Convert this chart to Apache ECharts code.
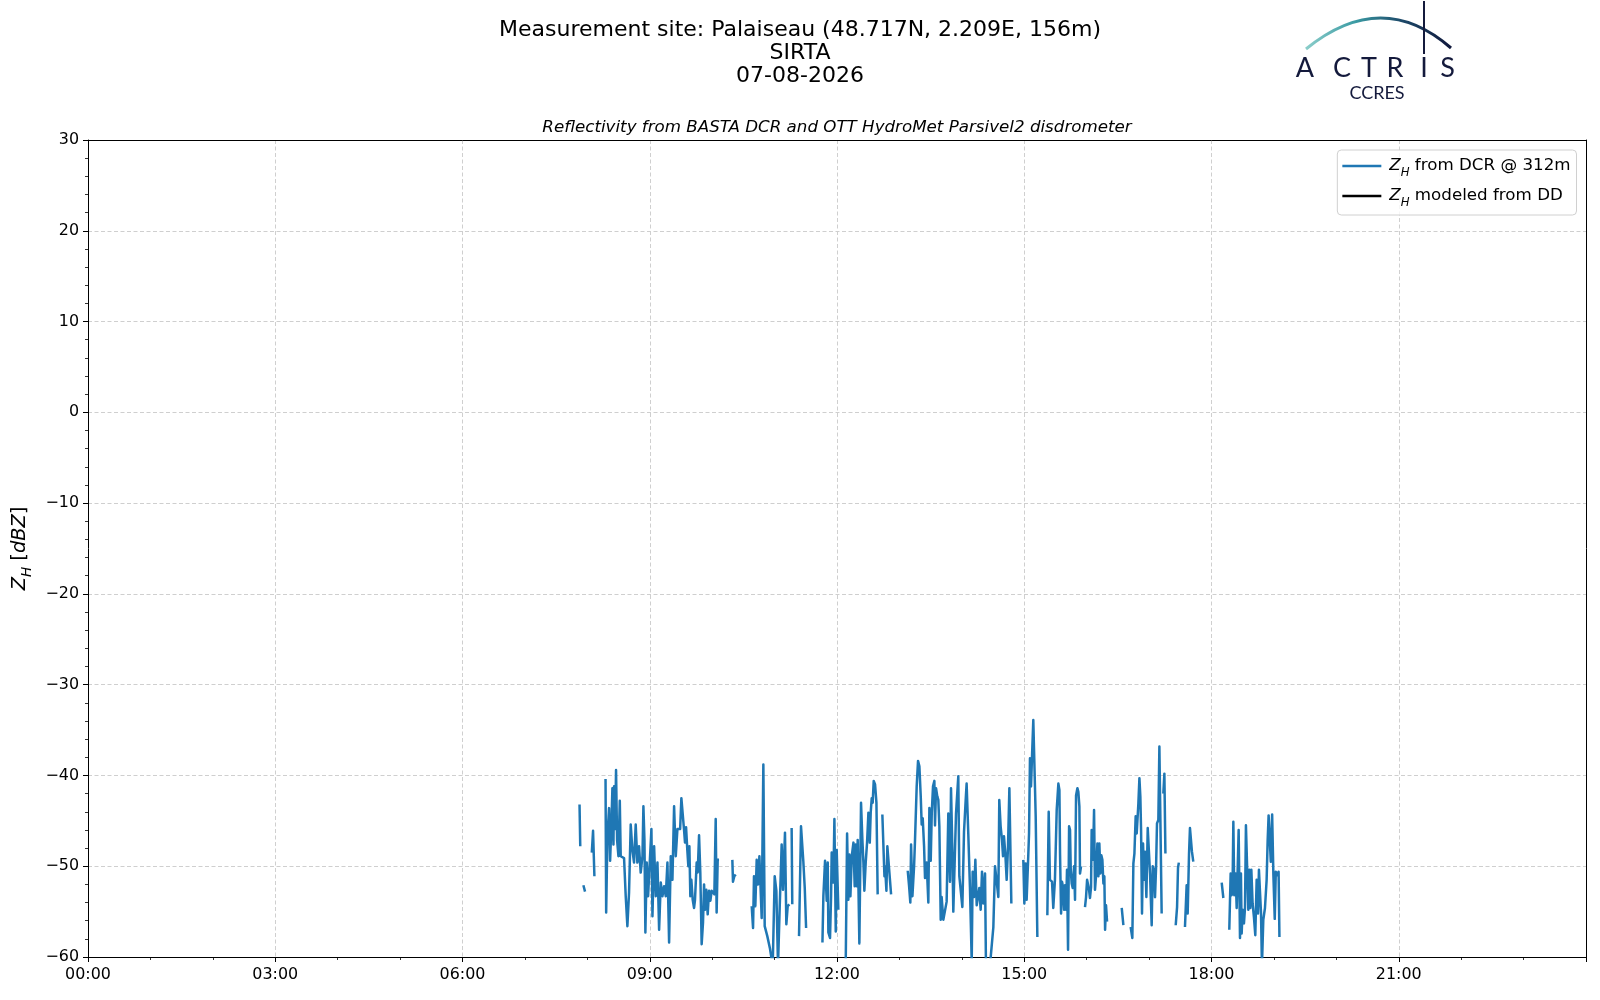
<!DOCTYPE html>
<html>
<head>
<meta charset="utf-8">
<script src="https://cdn.jsdelivr.net/npm/echarts@6/dist/echarts.min.js"></script>
<style>
html,body{margin:0;padding:0;background:#fff;}
#chart{width:1600px;height:1000px;}
</style>
</head>
<body>
<div id="chart"></div>
<script>
// ---- data (time in minutes since 00:00 UTC, reflectivity in dBZ) ----
const titleLines = ['Measurement site: Palaiseau (48.717N, 2.209E, 156m)', 'SIRTA', '07-08-2026'];
const subTitle = 'Reflectivity from BASTA DCR and OTT HydroMet Parsivel2 disdrometer';
const xTickMinutes = [0, 180, 360, 540, 720, 900, 1080, 1260];
const yTicks = [-60, -50, -40, -30, -20, -10, 0, 10, 20, 30];
const seriesNames = ['dcr', 'dd'];

// Z_H from DCR @ 312m, contiguous segments (gaps between segments)
const dcrSegments = [
 [[472.5,-43.2],[473.2,-47.8]],
 [[476.2,-52.1],[477.8,-52.8]],
 [[484.3,-48.5],[485.5,-46.1],[486.8,-51.1]],
 [[497.5,-40.4],[498.1,-55.1],[499.3,-46.7],[500.9,-43.6],[501.9,-49.4],[503.2,-45.2],[504.1,-41.4],[505.1,-47.6],[505.7,-41.2],[506.7,-45.9],[507.6,-39.4],[508.6,-47.1],[509.9,-48.9],[511.2,-42.8],[512.1,-48.9],[515.3,-49.1],[516.9,-53.3],[518.5,-56.6],[520.1,-52.9],[521.7,-45.4],[523.3,-48.2],[524.9,-49.6],[526.5,-45.4],[528.1,-49.6],[529.7,-47.8],[531.3,-50.7],[533.0,-48.9],[533.9,-43.4],[534.9,-47.1],[535.8,-57.3],[537.1,-49.6],[538.4,-53.3],[540.0,-49.6],[541.6,-45.9],[542.6,-55.5],[544.2,-47.8],[545.8,-53.3],[547.4,-49.6],[549.0,-57.0],[550.6,-51.8],[552.2,-53.3],[553.8,-52.2],[555.4,-53.3],[557.0,-49.6],[558.6,-58.4],[560.2,-48.9],[561.8,-51.5],[563.4,-43.4],[565.0,-48.9],[566.6,-45.9],[569.2,-45.9],[570.4,-42.5],[571.4,-42.6],[572.9,-45.9],[573.9,-47.4],[574.9,-45.7],[576.1,-48.2],[577.1,-50.0],[578.1,-47.8],[579.0,-53.3],[580.0,-51.5],[581.3,-53.7],[582.6,-54.6],[583.5,-53.7],[585.1,-49.6],[586.1,-50.7],[587.4,-46.6],[588.6,-50.7],[589.9,-58.6],[591.2,-56.2],[592.2,-52.0],[593.1,-54.8],[594.4,-52.6],[595.7,-55.3],[597.0,-52.7],[598.3,-53.8],[599.5,-52.7],[600.8,-52.6],[602.1,-53.1],[603.4,-44.8],[604.3,-55.1],[605.3,-49.3],[606.6,-49.3]],
 [[619.4,-49.3],[620.0,-51.7],[621.3,-51.1],[622.6,-50.9]],
 [[638.0,-54.4],[639.3,-56.8],[640.2,-51.1],[641.5,-54.4],[642.8,-49.3],[644.1,-52.0],[645.4,-48.9],[647.0,-48.9],[647.6,-55.7],[649.2,-38.8],[650.5,-56.6],[653.0,-57.7],[655.6,-59.1],[658.2,-61.0],[660.1,-51.1],[661.7,-52.7],[663.3,-61.0],[664.9,-54.6],[666.8,-47.6],[668.1,-52.6],[670.0,-46.3],[671.3,-56.4],[672.6,-54.4],[674.2,-54.2]],
 [[676.4,-45.8],[677.0,-54.2]],
 [[683.5,-57.7],[685.4,-45.6],[687.6,-49.4],[689.0,-52.4],[690.3,-56.8]],
 [[706.0,-58.4],[706.9,-53.3],[708.5,-49.4],[710.1,-53.8],[711.1,-49.6],[711.7,-57.3],[713.3,-57.9],[714.3,-53.3],[714.9,-48.5],[716.5,-51.8],[717.5,-44.8],[718.8,-57.2],[719.7,-48.2],[721.3,-54.8]],
 [[728.4,-60.5],[729.7,-46.4],[730.9,-53.7],[731.9,-48.7],[732.9,-53.3],[734.2,-48.9],[735.8,-47.4],[737.0,-52.2],[738.0,-47.6],[739.0,-52.2],[739.9,-47.1],[741.5,-58.5],[743.1,-43.0],[744.4,-47.1],[745.4,-49.6],[746.3,-52.7],[747.6,-49.6],[748.9,-47.4],[750.2,-44.1],[751.5,-47.4],[752.4,-44.1],[753.4,-42.5],[754.3,-43.0],[755.3,-40.6],[756.6,-41.0],[757.9,-43.0],[759.1,-53.1]],
 [[763.6,-44.3],[765.6,-51.1],[766.2,-50.0],[767.5,-52.7],[768.4,-47.8],[770.0,-48.0],[772.0,-53.1]],
 [[788.0,-50.5],[789.3,-52.2],[790.5,-54.0],[791.2,-47.6],[792.5,-53.3],[794.1,-50.0],[795.0,-47.1],[796.6,-41.2],[797.9,-38.4],[799.2,-39.0],[800.5,-42.3],[801.4,-45.4],[802.4,-44.7],[803.7,-47.8],[804.6,-51.3],[806.2,-49.6],[807.8,-54.0],[808.8,-43.6],[810.1,-49.4],[811.1,-44.1],[812.3,-41.2],[813.6,-40.6],[814.2,-45.5],[815.2,-41.4],[816.4,-42.3],[817.4,-42.7],[818.4,-45.6],[819.7,-55.9],[820.6,-53.4],[822.2,-55.9],[825.4,-53.9],[827.0,-44.2],[828.6,-51.7],[829.6,-41.4],[830.9,-48.2],[831.8,-55.0],[834.4,-44.2],[835.7,-44.4],[836.6,-40.1],[837.6,-51.1],[839.2,-51.3],[840.5,-54.5],[842.1,-46.2],[843.7,-42.7],[844.6,-40.9],[846.2,-46.4],[847.8,-52.3],[849.5,-60.5],[850.4,-50.6],[851.7,-53.4],[853.0,-49.3],[854.3,-54.3],[855.5,-53.4],[856.8,-52.4],[858.1,-54.8],[859.4,-50.6],[860.7,-54.1],[862.3,-50.8],[863.2,-61.0],[867.0,-61.0],[870.3,-56.7],[871.9,-50.0],[873.5,-50.0],[875.1,-53.4],[876.0,-42.7],[877.3,-45.6],[878.6,-47.1],[879.6,-48.9],[880.5,-46.7],[881.8,-48.6],[883.1,-51.5],[884.4,-47.8],[885.7,-41.4],[887.6,-54.1]],
 [[899.1,-49.3],[900.1,-54.1],[901.4,-49.7],[902.3,-53.7],[903.6,-49.7],[904.6,-46.4],[905.5,-38.1],[906.5,-41.2],[907.8,-36.8],[908.7,-33.9],[909.7,-33.9],[911.0,-44.5],[912.6,-57.8]],
 [[922.2,-55.4],[923.5,-44.0],[924.7,-51.5],[926.7,-51.7],[927.9,-54.6],[929.5,-51.5],[931.2,-43.8],[932.8,-40.9],[933.8,-41.6],[934.4,-48.6],[935.4,-55.2],[936.3,-51.7],[937.3,-52.3],[938.3,-54.8],[939.2,-52.1],[940.2,-54.8],[941.1,-50.4],[942.1,-59.2],[943.1,-45.6],[944.0,-46.0],[944.7,-50.4],[945.6,-51.9],[946.6,-52.4],[947.9,-50.0],[948.8,-53.7],[949.8,-42.2],[951.1,-41.4],[952.0,-41.8],[953.0,-43.4],[953.6,-50.8],[954.6,-50.0]],
 [[958.4,-54.5],[959.4,-53.4],[960.4,-51.5],[961.3,-51.3],[962.3,-52.6],[963.2,-53.5],[964.2,-52.3],[964.8,-46.0],[966.1,-49.3],[967.1,-43.8],[968.0,-52.6],[969.0,-51.1],[970.3,-47.5],[971.3,-51.1],[972.2,-47.5],[973.2,-50.8],[974.1,-48.8],[975.1,-49.3],[976.1,-51.9],[977.0,-51.1],[977.7,-57.0],[978.6,-54.3],[979.6,-56.1]],
 [[993.7,-54.6],[995.3,-56.5]],
 [[1002.3,-56.7],[1003.9,-57.9],[1004.9,-49.7],[1005.9,-48.6],[1007.1,-44.5],[1008.1,-46.4],[1009.7,-43.1],[1010.7,-40.3],[1011.6,-42.3],[1012.3,-46.0],[1013.2,-55.2],[1014.2,-47.5],[1015.1,-51.5],[1016.1,-48.4],[1017.4,-53.4],[1018.7,-45.8],[1019.9,-45.6],[1020.9,-50.8],[1022.5,-56.5],[1023.5,-50.0],[1024.8,-50.4],[1025.7,-53.4],[1026.7,-50.2],[1027.6,-45.3],[1028.9,-44.9],[1029.9,-36.8],[1030.8,-36.8],[1032.1,-55.2]],
 [[1033.7,-42.0],[1034.7,-39.8],[1035.7,-48.6]],
 [[1045.6,-56.5],[1046.9,-54.5],[1047.8,-50.2],[1048.6,-49.6]],
 [[1054.5,-56.7],[1056.1,-52.1],[1057.1,-55.2],[1058.4,-48.6],[1059.3,-45.8],[1060.3,-46.0],[1061.2,-48.4],[1062.5,-49.5]],
 [[1089.8,-51.8],[1091.4,-53.5]],
 [[1097.1,-57.0],[1098.4,-50.8],[1099.4,-53.2],[1100.3,-51.9],[1101.0,-45.1],[1101.9,-53.2],[1103.2,-50.8],[1104.2,-54.6],[1105.1,-50.6],[1106.1,-46.0],[1107.4,-57.9],[1108.3,-50.8],[1109.0,-57.4],[1109.9,-54.8],[1111.2,-56.3],[1112.2,-54.6],[1113.1,-45.5],[1114.4,-45.5],[1115.4,-54.8],[1116.3,-50.4],[1117.3,-54.6],[1118.3,-50.4],[1119.5,-54.1],[1120.8,-55.6],[1122.1,-57.6],[1123.4,-51.5],[1124.7,-55.2],[1125.6,-50.4],[1126.6,-50.4],[1127.6,-55.2],[1128.5,-61.0],[1129.8,-55.9],[1131.4,-54.6],[1133.0,-51.5],[1134.0,-47.1],[1134.9,-44.4],[1136.0,-44.2],[1137.0,-49.5],[1138.3,-44.3],[1139.5,-51.0],[1140.8,-55.8],[1141.8,-50.6],[1143.2,-51.0],[1144.5,-50.6],[1145.3,-57.8]]
];
// Z_H modeled from DD: no data on this day
const ddSamples = [];

// ---- build line data with breaks between segments ----
const dcrData = [];
dcrSegments.forEach(seg => {
  seg.forEach(p => dcrData.push([p[0], p[1]]));
  dcrData.push([seg[seg.length - 1][0] + 0.4, '-']);
});

const FONT = '"DejaVu Sans", Verdana, sans-serif';
const chart = echarts.init(document.getElementById('chart'), null, {renderer: 'canvas'});

function hhmm(v) {
  const h = Math.floor(v / 60), m = Math.round(v % 60);
  return String(h).padStart(2, '0') + ':' + String(m).padStart(2, '0');
}
const legendRich = {
  g: {width: 3, lineHeight: 20},
  z: {fontFamily: FONT, fontStyle: 'italic', fontSize: 16.7, lineHeight: 20, verticalAlign: 'middle', color: '#000'},
  h: {fontFamily: FONT, fontStyle: 'italic', fontSize: 11.7, lineHeight: 12, padding: [11, 0, 0, 0], verticalAlign: 'top', color: '#000'},
  n: {fontFamily: FONT, fontSize: 16.7, lineHeight: 20, verticalAlign: 'middle', color: '#000'}
};
const legendText = {
  dcr: '{g|}{z|Z}{h|H}{n| from DCR @ 312m}',
  dd: '{g|}{z|Z}{h|H}{n| modeled from DD}'
};

const logoNavy = '#141a3c';
const letters = [['A',1305],['C',1342],['T',1369],['R',1395],['I',1424],['S',1447.5]];

const graphics = [];
titleLines.forEach((t, i) => {
  graphics.push({type: 'text', x: 800, y: 30.5 + i * 22.8,
    style: {text: t, fill: '#000', font: '22px ' + FONT, textAlign: 'center', textVerticalAlign: 'middle', align: 'center', verticalAlign: 'middle'}});
});
graphics.push({type: 'text', x: 837, y: 127.5,
  style: {text: subTitle, fill: '#000', font: 'italic 16.7px ' + FONT, textAlign: 'center', textVerticalAlign: 'middle', align: 'center', verticalAlign: 'middle'}});
// ACTRIS logo
graphics.push({type: 'bezierCurve',
  shape: {x1: 1306, y1: 49, cpx1: 1381.5, cpy1: -12.5, x2: 1451, y2: 48},
  style: {fill: null, lineWidth: 3,
    stroke: new echarts.graphic.LinearGradient(0, 0, 1, 0, [
      {offset: 0, color: '#8fd0cc'}, {offset: 0.35, color: '#3a9aa3'},
      {offset: 0.65, color: '#1d4a6a'}, {offset: 1, color: '#10163a'}])}});
graphics.push({type: 'line', shape: {x1: 1424, y1: 1, x2: 1424, y2: 54},
  style: {stroke: logoNavy, lineWidth: 2}});
letters.forEach(l => {
  graphics.push({type: 'text', x: l[1], y: 82,
    style: {text: l[0], fill: logoNavy, font: '27px Lato, "Open Sans", sans-serif', textAlign: 'center', textVerticalAlign: 'bottom', align: 'center', verticalAlign: 'bottom'}});
});
graphics.push({type: 'text', x: 1377, y: 93,
  style: {text: 'CCRES', fill: logoNavy, font: '18px Lato, "Open Sans", sans-serif', textAlign: 'center', textVerticalAlign: 'middle', align: 'center', verticalAlign: 'middle'}});

const frameAxis = {
  axisLine: {show: true, onZero: false, lineStyle: {color: '#000', width: 1}},
  axisTick: {show: false}, axisLabel: {show: false}, splitLine: {show: false}
};

const option = {
  animation: false,
  backgroundColor: '#fff',
  graphic: {elements: graphics},
  grid: {left: 88, right: 14, top: 140, bottom: 43, show: false, containLabel: false, outerBoundsMode: 'none'},
  legend: {
    data: seriesNames.map(n => ({name: n, icon: 'rect'})),
    orient: 'vertical', right: 23.5, top: 150,
    itemWidth: 39, itemHeight: 2.5, itemGap: 7,
    padding: [6, 6, 6, 5],
    borderColor: '#d0d0d0', borderWidth: 1, borderRadius: 4,
    backgroundColor: 'rgba(255,255,255,0.8)',
    selectedMode: false,
    formatter: n => legendText[n],
    textStyle: {fontFamily: FONT, fontSize: 16.7, color: '#000', rich: legendRich}
  },
  xAxis: [{
    type: 'value', min: 0, max: 1440, interval: 180,
    axisLine: {show: true, onZero: false, lineStyle: {color: '#000', width: 1}},
    axisTick: {show: true, length: 5, lineStyle: {color: '#000', width: 1}},
    minorTick: {show: true, splitNumber: 3, length: 3, lineStyle: {color: '#000', width: 0.8}},
    axisLabel: {margin: 10, color: '#000', fontFamily: FONT, fontSize: 15.9,
      formatter: v => (xTickMinutes.indexOf(v) >= 0 ? hhmm(v) : '')},
    splitLine: {show: true, lineStyle: {color: '#cfcfcf', width: 1, type: [4, 2.5]}},
    minorSplitLine: {show: false}
  }, Object.assign({type: 'value', min: 0, max: 1440, position: 'top'}, frameAxis)],
  yAxis: [{
    type: 'value', min: yTicks[0], max: yTicks[yTicks.length - 1], interval: 10,
    name: '{z|Z}{h|H}{n| [}{z|dBZ}{n|]}',
    nameLocation: 'middle', nameRotate: 90, nameGap: 46,
    nameTextStyle: {fontFamily: FONT, fontSize: 19.4, color: '#000', rich: {
      z: {fontFamily: FONT, fontStyle: 'italic', fontSize: 19.4, lineHeight: 24, verticalAlign: 'middle', color: '#000'},
      h: {fontFamily: FONT, fontStyle: 'italic', fontSize: 13.6, lineHeight: 14, padding: [13, 0, 0, 0], verticalAlign: 'top', color: '#000'},
      n: {fontFamily: FONT, fontSize: 19.4, lineHeight: 24, verticalAlign: 'middle', color: '#000'}
    }},
    axisLine: {show: true, onZero: false, lineStyle: {color: '#000', width: 1}},
    axisTick: {show: true, length: 5, lineStyle: {color: '#000', width: 1}},
    minorTick: {show: true, splitNumber: 5, length: 3, lineStyle: {color: '#000', width: 0.8}},
    axisLabel: {margin: 9, color: '#000', fontFamily: FONT, fontSize: 15.9,
      formatter: v => (v < 0 ? '\u2212' + Math.abs(v) : String(v))},
    splitLine: {show: true, lineStyle: {color: '#cfcfcf', width: 1, type: [4, 2.5]}}
  }, Object.assign({type: 'value', min: -60, max: 30, position: 'right'}, frameAxis)],
  series: [
    {name: 'dcr', type: 'line', data: dcrData, showSymbol: false, symbol: 'none',
     connectNulls: false, clip: true, color: '#1f77b4',
     lineStyle: {color: '#1f77b4', width: 2.5, join: 'round'}, z: 3},
    {name: 'dd', type: 'line', data: ddSamples, showSymbol: false, symbol: 'none',
     color: '#000', lineStyle: {color: '#000', width: 2.1}, z: 4}
  ]
};
chart.setOption(option);
</script>
</body>
</html>
